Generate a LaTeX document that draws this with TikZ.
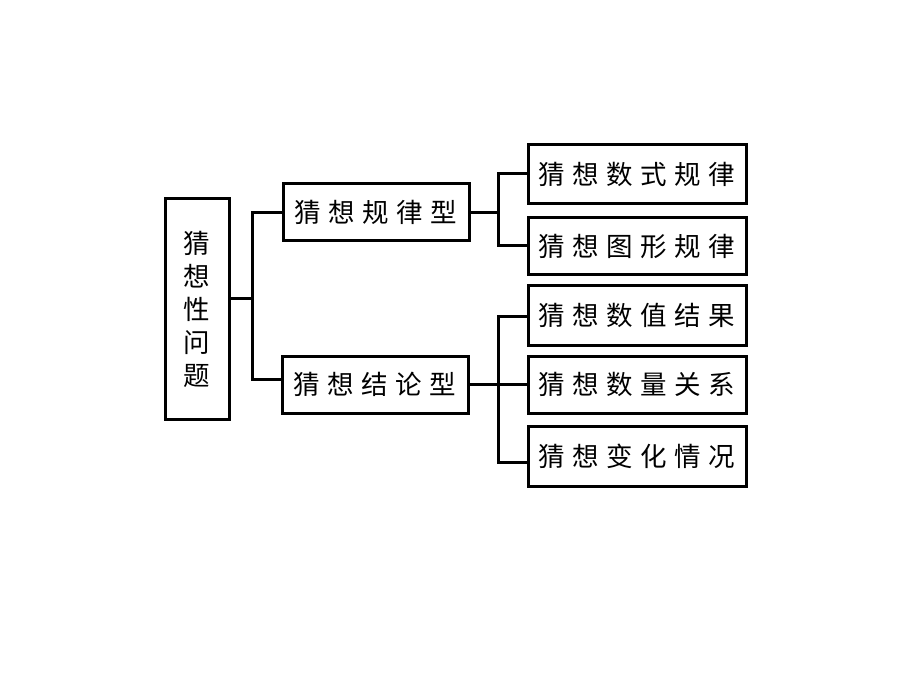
\documentclass[tikz,border=0pt]{standalone}
\usepackage{fontspec}
\newfontfamily\cjk[LetterSpace=28]{Noto Sans CJK SC}
\newfontfamily\cjkv{Noto Sans CJK SC}
\begin{document}
\begin{tikzpicture}[x=1pt, y=-1pt,
    box/.style={draw, line width=3pt, inner sep=0pt, minimum width=218pt,
        font=\cjk\fontsize{26.5}{33}\selectfont},
    link/.style={line width=3pt}]
        \useasboundingbox (0,0) rectangle (920,700);

        % root
        \node[box, minimum width=64pt, minimum height=220pt, align=center,
            font=\cjkv\fontsize{26.5}{33}\selectfont] (T) at (197,309) {猜\\想\\性\\问\\题};

        % two kinds
        \node[box, minimum width=186pt, minimum height=57pt] (A) at (376,212.5) {猜想规律型};
        \node[box, minimum width=186pt, minimum height=57pt] (B) at (375,384.5) {猜想结论型};

        % leaves
        \node[box, minimum height=59pt] (R1) at (637,174.5) {猜想数式规律};
        \node[box, minimum height=57pt] (R2) at (637,246.5) {猜想图形规律};
        \node[box, minimum height=59pt] (R3) at (637,315.5) {猜想数值结果};
        \node[box, minimum height=57pt] (R4) at (637,384.5) {猜想数量关系};
        \node[box, minimum height=60pt] (R5) at (637,456) {猜想变化情况};

        \coordinate (j0) at (252,299);
        \coordinate (j1) at (498,211);
        \coordinate (j2) at (498,386);

        \draw[link] ([yshift=10pt]T.east) -- (j0);
        \draw[link] (A.west) -| (j0) |- ([yshift=5pt]B.west);
        \draw[link] (A.east) -- (A.east -| j1);
        \draw[link] ([yshift=1pt]R1.west) -| (j1) |- ([yshift=1pt]R2.west);
        \draw[link] (B.east) -- (R4.west);
        \draw[link] ([yshift=-1pt]R3.west) -| (j2) |- ([yshift=-6pt]R5.west);
    \end{tikzpicture}
\end{document}
